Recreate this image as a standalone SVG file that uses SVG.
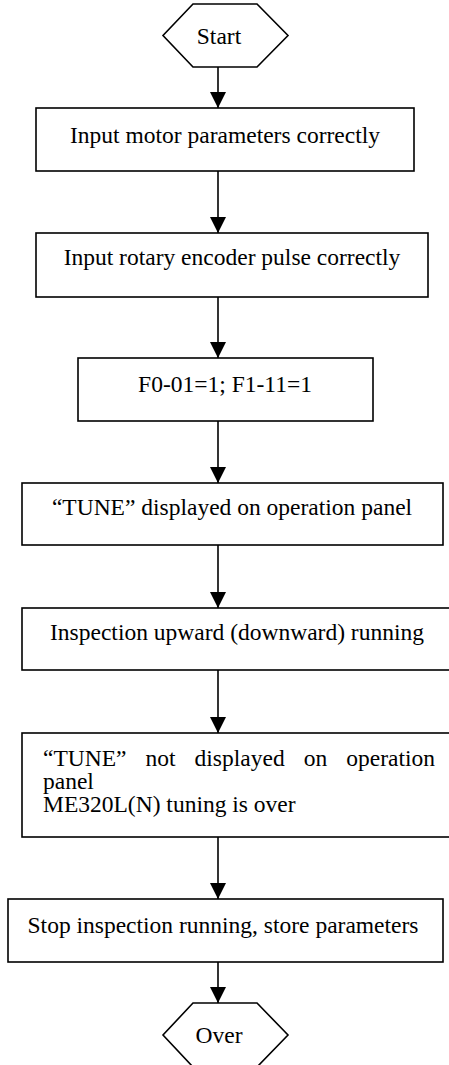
<svg xmlns="http://www.w3.org/2000/svg" width="449" height="1065" viewBox="0 0 449 1065">
<style>
  .shape { fill: #ffffff; stroke: #000000; stroke-width: 1.6; }
  .lbl { font-family: "Liberation Serif", "Times New Roman", serif; font-size: 23.5px; fill: #000000; }
  .c { text-anchor: middle; }
  .conn { stroke: #000000; stroke-width: 1.6; fill: none; marker-end: url(#arr); }
</style>
<defs>
  <marker id="arr" viewBox="0 0 16 16" refX="16" refY="8" markerWidth="16" markerHeight="16" markerUnits="userSpaceOnUse" orient="auto">
    <path d="M0,0 L16,8 L0,16 Z" fill="#000000"/>
  </marker>
</defs>
<rect width="449" height="1065" fill="#ffffff"/>
<g id="connectors">
  <line class="conn" x1="218" y1="67" x2="218" y2="108"/>
  <line class="conn" x1="218" y1="171" x2="218" y2="233"/>
  <line class="conn" x1="218" y1="297" x2="218" y2="358"/>
  <line class="conn" x1="218" y1="421" x2="218" y2="483"/>
  <line class="conn" x1="218" y1="545" x2="218" y2="608"/>
  <line class="conn" x1="218" y1="670" x2="218" y2="733"/>
  <line class="conn" x1="218" y1="837" x2="218" y2="899"/>
  <line class="conn" x1="218" y1="962" x2="218" y2="1003"/>
</g>
<g id="start">
  <polygon class="shape" points="193,4 257,4 288,35.5 257,67 193,67 163,35.5"/>
  <text class="lbl c" x="219" y="44">Start</text>
</g>
<g id="step1">
  <rect class="shape" x="36" y="108" width="378" height="63"/>
  <text class="lbl c" x="225" y="143">Input motor parameters correctly</text>
</g>
<g id="step2">
  <rect class="shape" x="36" y="233" width="392" height="64"/>
  <text class="lbl c" x="232" y="265">Input rotary encoder pulse correctly</text>
</g>
<g id="step3">
  <rect class="shape" x="78" y="358" width="295" height="63"/>
  <text class="lbl c" x="225" y="392">F0-01=1; F1-11=1</text>
</g>
<g id="step4">
  <rect class="shape" x="22" y="483" width="421" height="62"/>
  <text class="lbl c" x="232" y="515">“TUNE” displayed on operation panel</text>
</g>
<g id="step5">
  <rect class="shape" x="22" y="608" width="440" height="62"/>
  <text class="lbl c" x="237" y="640">Inspection upward (downward) running</text>
</g>
<g id="step6">
  <rect class="shape" x="22" y="733" width="440" height="104"/>
  <text class="lbl" y="766"><tspan x="43">“TUNE”</tspan><tspan x="145.5">not</tspan><tspan x="194.6">displayed</tspan><tspan x="303.7">on</tspan><tspan x="346.3">operation</tspan><tspan x="43" y="789">panel</tspan><tspan x="43" y="812">ME320L(N) tuning is over</tspan></text>
</g>
<g id="step7">
  <rect class="shape" x="8" y="899" width="435" height="63"/>
  <text class="lbl c" x="223" y="933">Stop inspection running, store parameters</text>
</g>
<g id="over">
  <polygon class="shape" points="193,1003 257,1003 288,1035 257,1067 193,1067 163,1035"/>
  <text class="lbl c" x="219" y="1043">Over</text>
</g>
</svg>
